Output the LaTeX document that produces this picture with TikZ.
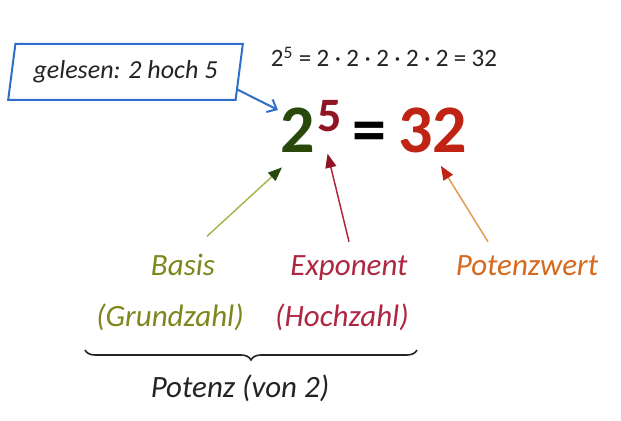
\documentclass[tikz,border=0pt]{standalone}
\usepackage{fontspec}
\setmainfont{Carlito}
\usetikzlibrary{shapes.geometric,arrows.meta,decorations.pathreplacing}

\begin{document}
\begin{tikzpicture}[x=0.5pt,y=-0.5pt]
    % Colours of the parts of the power
    \definecolor{readblue}{RGB}{45,110,200}
    \definecolor{basegreen}{RGB}{40,72,12}
    \definecolor{basislabel}{RGB}{125,135,30}
    \definecolor{basisline}{RGB}{170,180,80}
    \definecolor{expred}{RGB}{145,20,35}
    \definecolor{explabel}{RGB}{175,40,65}
    \definecolor{valred}{RGB}{190,35,20}
    \definecolor{vallabel}{RGB}{215,105,30}
    \definecolor{valline}{RGB}{225,155,85}
    \definecolor{inkgray}{RGB}{35,35,35}

    % Styles
    \tikzset{
        lbl/.style={font=\fontsize{15.5pt}{18pt}\selectfont\itshape, inner sep=0pt, anchor=base},
        bignum/.style={font=\fontsize{34pt}{40pt}\selectfont\bfseries, inner sep=0pt, anchor=base west},
        ptr/.style 2 args={draw=#1, line width=0.75pt, -{Triangle[length=7pt,width=5.5pt,color=#2]}},
    }

    % Page frame
    \useasboundingbox (0,0) rectangle (621,421);

    % Reading box
    \node[trapezium, trapezium left angle=75, trapezium right angle=105,
          trapezium stretches=true, minimum width=117.5pt, minimum height=28pt,
          draw=readblue, line width=1pt, text=inkgray, inner sep=0pt,
          font=\fontsize{13pt}{15pt}\selectfont\itshape] (read) at (125.5,72) {gelesen: 2 hoch 5};

    % Worked product
    \node[font=\fontsize{12.5pt}{15pt}\selectfont, text=inkgray, inner sep=0pt, anchor=base] (calc) at (384,67)
        {2\textsuperscript{5}\kern2.7pt=\kern2.7pt2\kern2.7pt·\kern2.7pt2\kern2.7pt·\kern2.7pt2\kern2.7pt·\kern2.7pt2\kern2.7pt·\kern2.7pt2\kern2.7pt=\kern2.7pt32};

    % Big power
    \node[bignum, text=basegreen] (base) at (280,153) {2};
    \node[bignum, text=expred, font=\fontsize{24pt}{28pt}\selectfont\bfseries] (expo) at (317,132) {5};
    \node[bignum, text=black] (eq) at (352,153) {=};
    \node[bignum, text=valred] (value) at (398,153) {32};

    % Labels
    \node[lbl, text=basislabel] (basis) at (183,276) {Basis};
    \node[lbl, text=basislabel] (grund) at (170,327) {(Grundzahl)};
    \node[lbl, text=explabel] (exponent) at (349,276) {Exponent};
    \node[lbl, text=explabel] (hoch) at (342,327) {(Hochzahl)};
    \node[lbl, text=vallabel] (potwert) at (527,276) {Potenzwert};
    \node[lbl, text=inkgray] (potenz) at (240,398) {Potenz (von 2)};

    % Pointers
    \draw[readblue, line width=1pt, -{Straight Barb[length=4pt,width=7pt]}]
        (read.-9) -- ([shift={(-1pt,-1pt)}]base.north west);
    \draw[ptr={basisline}{basegreen}] ([shift={(12pt,9pt)}]basis.north) -- ([shift={(1pt,-7pt)}]base.south west);
    \draw[ptr={explabel}{expred}] ([shift={(0pt,7pt)}]exponent.north) -- ([shift={(-1pt,-10.5pt)}]expo.south);
    \draw[ptr={valline}{valred}] ([shift={(-19.5pt,7pt)}]potwert.north) -- ([shift={(4pt,-6pt)}]value.south);

    % Brace under base and exponent
    \draw[inkgray, line width=0.8pt, decorate, decoration={brace, mirror, amplitude=5pt}] (85,350) -- (417,350);
\end{tikzpicture}
\end{document}
